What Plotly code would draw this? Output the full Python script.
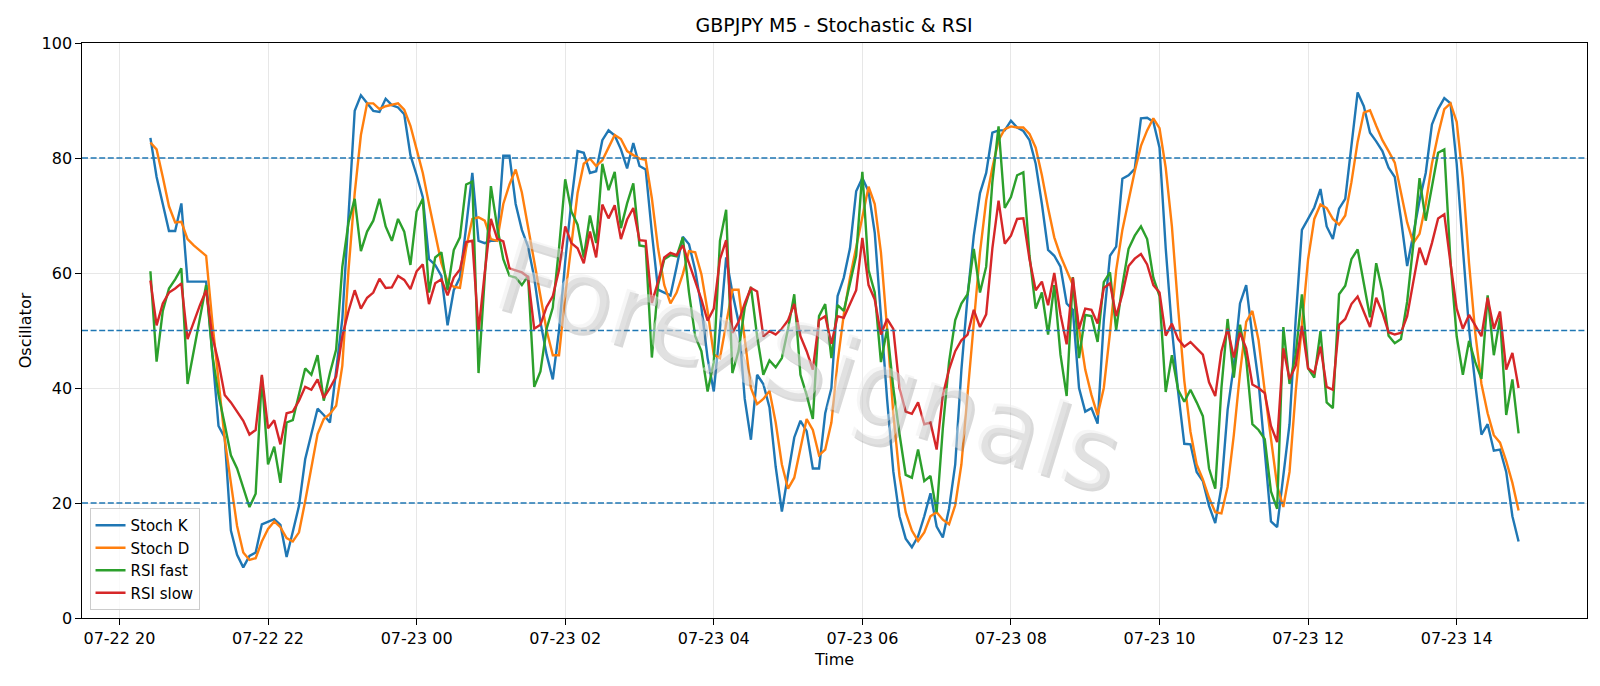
import pandas as pd
import plotly.graph_objects as go

start_time = "2025-07-22 20:25"
n_points = 222
times = pd.date_range(start_time, periods=n_points, freq="5min")

stoch_k = [83.5, 76.7, 72, 67.3, 67.3, 72.1, 58.5, 58.5, 58.5, 58.5,
           46, 33.4, 31.4, 15.2, 11, 8.8, 10.8, 11.4, 16.3, 16.8,
           17.2, 16.2, 10.6, 15, 19.5, 27.6, 32, 36.4, 35.3, 34,
           43, 52, 70, 88.2, 90.9, 89.5, 88.2, 88, 90.3, 89.2,
           88.8, 87.6, 80.5, 77, 73.2, 62.4, 61.4, 59.5, 50.9, 57,
           59.2, 68, 77.4, 65.6, 65.2, 65.6, 65.6, 80.4, 80.4, 72,
           67.5, 64.6, 59.2, 51.5, 45.8, 41.5, 50, 62, 72.5, 81.2,
           80.9, 77.4, 77.7, 83.1, 84.8, 83.9, 81.5, 78.2, 82.6, 78.6,
           78, 67, 57.1, 56.6, 56.1, 61.1, 66.3, 65, 60.5, 54,
           45.2, 39.4, 50.3, 62.7, 56.6, 51.5, 38.1, 31, 42.3, 40.7,
           36.6, 26.3, 18.5, 25, 31.4, 34.3, 32.5, 26, 26, 35.6,
           40, 56, 59.2, 64.3, 74.2, 76.5, 74.2, 67, 52, 38,
           25.5, 17.7, 13.8, 12.3, 14.2, 17.7, 21.7, 15.9, 14, 19,
           26.7, 43.2, 56, 66.5, 73.9, 77.4, 84.4, 84.8, 84.8, 86.5,
           85.3, 84.7, 83.1, 79, 72, 64, 63, 61.1, 54.7, 53.6,
           40, 35.9, 36.5, 33.8, 51.8, 63, 64.6, 76.4, 77, 78.1,
           86.9, 87, 86.3, 81.8, 64.3, 50.3, 39.4, 30.3, 30.2, 25.4,
           23.8, 19.5, 16.5, 22.8, 36.2, 43.9, 54.7, 57.9, 49, 41,
           29, 16.8, 15.8, 24.4, 33.7, 52, 67.5, 69.4, 71.4, 74.6,
           68.1, 65.9, 71.2, 72.9, 82.1, 91.4, 89, 84.4, 82.9, 81.2,
           78.3, 76.7, 69.4, 61.2, 66.8, 72.6, 77.4, 85.8, 88.5, 90.4,
           89.5, 79, 64.3, 50.3, 40.7, 31.9, 33.7, 29.1, 29.3, 25.4,
           17.7, 13.3]

stoch_d = [82.7, 81.5, 76.7, 71.6, 68.8, 68.9, 65.9, 64.8, 63.9, 63,
           51.5, 40.7, 31.1, 23.5, 16, 11.4, 10.1, 10.4, 13.3, 15.5,
           16.8, 15.8, 13.9, 13.3, 14.9, 20.3, 26, 32, 34.6, 35.5,
           36.9, 43.9, 60.5, 73.9, 84, 89.5, 89.5, 88.5, 89, 89.3,
           89.5, 88.4, 85.6, 81.5, 77.4, 72, 66.8, 61.7, 58.5, 57.6,
           57.4, 64.3, 69.4, 69.7, 69.1, 65.9, 65.6, 72, 75.4, 78,
           74, 68, 62, 56, 50, 45.7, 45.7, 56, 65, 73.9,
           79, 79.9, 78.6, 79.6, 81.8, 84, 83.3, 81.2, 80.5, 79.9,
           79.7, 73, 64.3, 57.9, 54.7, 56.6, 59.8, 63.8, 63.6, 59.8,
           53.4, 45.8, 45.2, 51.5, 57.1, 57.1, 49, 40, 37.2, 38.1,
           39.5, 34, 26.7, 22.5, 24.4, 29.8, 34.6, 32.7, 28.3, 29.3,
           34, 44.5, 52.8, 59.2, 64.3, 70, 75, 72, 63.6, 50.3,
           35.5, 24.7, 18.4, 15.2, 13.4, 14.9, 17.7, 18.4, 17.1, 16.3,
           19.6, 26.7, 38.8, 51.5, 63.6, 72.6, 78.3, 83.1, 85, 85.5,
           85.3, 85.3, 84.2, 81.8, 77, 71.3, 66.2, 63, 60.5, 57.9,
           50.3, 43.2, 38.8, 35.3, 40, 49.6, 60.5, 67.5, 72.6, 77.7,
           82.1, 84.8, 86.9, 85.2, 78.3, 68.1, 54, 41.3, 32.4, 26.7,
           24.1, 20.9, 18.4, 18.2, 22.8, 31.8, 42.6, 51.5, 53.4, 48.3,
           39.4, 31, 23, 19.3, 25.4, 39.4, 51.5, 62.4, 69.4, 71.9,
           71.3, 69.4, 68.4, 70, 75.8, 82.8, 87.9, 88.3, 85.6, 83.1,
           81.2, 79.2, 74, 68.8, 65.2, 66.8, 72, 79, 84.1, 88.5,
           89.5, 86.3, 76.4, 61.7, 49.6, 40.7, 35.6, 31.8, 30.5, 27.3,
           23.5, 18.7]

rsi_fast = [60.3, 44.6, 53.4, 57.3, 58.9, 60.8, 40.7, 46.4, 52.2, 57.9,
            45.8, 38.8, 33.7, 28.3, 26, 22.8, 19.3, 21.6, 42, 26.7,
            29.8, 23.5, 34, 34.4, 38.8, 43.4, 42.3, 45.7, 37.8, 42.6,
            46.7, 61.1, 68.8, 72.9, 63.8, 67.2, 69.1, 72.9, 68.1, 65.6,
            69.4, 67.2, 61.4, 70.7, 72.9, 56.6, 62.7, 63.6, 57, 64,
            66.2, 75.4, 75.9, 42.6, 59.2, 75.1, 68.1, 62.4, 59.5, 59.2,
            57.9, 59.5, 40.2, 42.9, 50.3, 54, 64.3, 76.3, 70.7, 68.4,
            62.7, 70, 65.2, 79, 74.4, 77.6, 67.8, 72.1, 75.6, 64.8,
            64.6, 45.3, 57.9, 62.4, 63.1, 62.9, 66.2, 56.6, 49, 46.4,
            39.4, 44.5, 65.6, 71, 42.6, 46.4, 54, 57.6, 49, 42.3,
            44.8, 43.6, 45.2, 50.3, 56.3, 42.3, 38.8, 34.6, 52.5, 54.6,
            45.2, 54.4, 53.4, 58.5, 63, 77.6, 60.5, 56.6, 44.5, 50.3,
            40, 32, 24.9, 24.4, 29.3, 23.8, 24.7, 18.4, 33, 44.5,
            51.8, 54.7, 56.3, 64.2, 56.6, 61.1, 75.8, 85.5, 71.3, 73.2,
            77, 77.5, 63, 53.8, 56.6, 49.3, 57.9, 45.8, 38.6, 59.3,
            45.2, 52.7, 52.5, 48, 58.4, 60.1, 50.1, 57.9, 64.2, 66.5,
            68.1, 65.9, 59.2, 56, 39.3, 45.7, 39.7, 37.6, 39.7, 37.5,
            35.1, 26, 22.5, 40, 52, 41.8, 51, 45, 33.7, 32.7,
            31.1, 22, 19, 50.6, 40.7, 45.8, 56.3, 43.4, 41.8, 49.9,
            37.5, 36.5, 56.3, 57.8, 62.4, 64.1, 57.9, 52.3, 61.7, 56.8,
            49.1, 47.8, 48.5, 55, 65, 76.5, 69.1, 75, 80.9, 81.5,
            62, 49, 42.3, 48.2, 44.5, 41.6, 56.1, 45.7, 52.2, 35.3,
            41.5, 32.1]

rsi_slow = [58.7, 50.9, 54.7, 56.6, 57.3, 58.2, 48.5, 51.5, 54.4, 57,
            49, 44.5, 38.8, 37.5, 35.9, 34.3, 31.9, 32.7, 42.3, 33,
            34.4, 30.2, 35.6, 35.9, 37.8, 40.2, 39.7, 41.5, 38.3, 40,
            42, 49, 53.4, 57, 53.8, 55.7, 56.6, 59, 57.4, 57.5,
            59.5, 58.8, 57.2, 60.3, 61.5, 54.6, 58.2, 58.9, 56.1, 59.2,
            60.6, 65.4, 65.6, 49.9, 60, 69.4, 66, 65.5, 60.8, 60.5,
            60.1, 59.3, 50.3, 51, 54.1, 56, 60.5, 68.1, 65.2, 64.3,
            61.7, 67.2, 62.7, 71.9, 69.5, 71.8, 65.9, 69.3, 71.3, 65.7,
            65.6, 54.8, 58.5, 62.7, 63.5, 63.1, 64.8, 61.7, 58.5, 55.4,
            51.7, 53.8, 62.4, 65.7, 49.6, 51.5, 54.7, 57.4, 56.8, 49,
            49.9, 49.3, 50.3, 51.8, 54.6, 49, 46.4, 43.2, 51.8, 52.5,
            47.7, 52.5, 52.2, 54.7, 57, 66.1, 57.9, 55.4, 49.3, 52,
            50.3, 40, 35.9, 35.5, 37.5, 33.7, 34, 29.3, 38.8, 43.2,
            46.4, 48.3, 49.3, 53.6, 50.6, 52.8, 64.3, 72.6, 65.1, 66.5,
            69.4, 69.5, 62.4, 57, 58.5, 54.4, 60, 52.8, 47.6, 59.2,
            50.3, 53.8, 53.6, 51.2, 57.4, 58.2, 52.5, 56.3, 61.2, 62.5,
            63.3, 61.5, 57.9, 56.6, 49.1, 51.2, 48.5, 47.2, 48, 46.9,
            45.8, 41, 38.6, 46.4, 50.3, 45.3, 49.6, 46.9, 40.6, 40,
            39.1, 33.4, 30.6, 46.9, 41.5, 43.9, 50.8, 43.4, 42.6, 47.2,
            40.2, 39.7, 51, 52, 54.6, 55.9, 53.4, 50.6, 55.7, 53.1,
            49.7, 49.3, 49.6, 52.5, 58.5, 64.4, 61.4, 65.2, 69.5, 70.2,
            61.7, 53.8, 50.3, 52.7, 50.9, 49, 55.7, 50.3, 53.3, 43.2,
            46.1, 40]

levels = [20, 50, 80]
series_names = ["Stoch K", "Stoch D", "RSI fast", "RSI slow"]
series_colors = ["#1f77b4", "#ff7f0e", "#2ca02c", "#d62728"]
title_text = "GBPJPY M5 - Stochastic & RSI"
watermark = "ForexSignals"

FONT = "DejaVu Sans, Verdana, sans-serif"

fig = go.Figure()
for name, vals, col in zip(series_names, [stoch_k, stoch_d, rsi_fast, rsi_slow], series_colors):
    fig.add_trace(go.Scatter(x=times, y=vals, mode="lines", name=name,
                             line=dict(color=col, width=2.4)))

for lv in levels:
    fig.add_shape(type="line", xref="paper", x0=0, x1=1, yref="y", y0=lv, y1=lv,
                  line=dict(color="#1f77b4", width=1.6, dash="6px,2.6px"), layer="above")

span = times[-1] - times[0]
pad = span * 0.05
x_range = [times[0] - pad, times[-1] + pad]

# watermark: shadow + face
for dx, dy, col in [(3, 3, "rgba(120,120,120,0.28)"), (0, 0, "rgba(235,235,235,0.45)")]:
    fig.add_annotation(text=watermark, xref="paper", yref="paper", x=0.483, y=0.44,
                       xshift=dx, yshift=-dy, showarrow=False, textangle=17,
                       font=dict(family=FONT, size=102, color=col))

fig.update_layout(
    width=1600, height=686,
    margin=dict(l=82, r=13, t=43, b=68),
    paper_bgcolor="white", plot_bgcolor="white",
    font=dict(family=FONT, size=16, color="black"),
    title=dict(text=title_text, x=0.5213, xanchor="center", y=1 - 25.5 / 686,
               yanchor="middle", font=dict(size=19, color="black")),
    showlegend=True,
    legend=dict(x=0.005, y=0.014, xanchor="left", yanchor="bottom",
                bgcolor="rgba(255,255,255,0.8)", bordercolor="#cccccc", borderwidth=1,
                font=dict(size=15), tracegroupgap=0),
)
fig.update_xaxes(range=x_range, type="date", tickformat="%m-%d %H",
                 tick0="2025-07-22 20:00", dtick=2 * 3600 * 1000,
                 showgrid=True, gridcolor="#e7e7e7", gridwidth=1.3,
                 showline=True, linecolor="black", linewidth=1.3, mirror=True,
                 ticks="outside", ticklen=5.5, tickwidth=1.3, tickcolor="black",
                 title=dict(text="Time", standoff=6, font=dict(size=16)), zeroline=False)
fig.update_yaxes(range=[0, 100], tickvals=[0, 20, 40, 60, 80, 100],
                 showgrid=True, gridcolor="#e7e7e7", gridwidth=1.3,
                 showline=True, linecolor="black", linewidth=1.3, mirror=True,
                 ticks="outside", ticklen=5.5, tickwidth=1.3, tickcolor="black",
                 title=dict(text="Oscillator", standoff=6, font=dict(size=16)), zeroline=False)

fig.write_html("out.html")
